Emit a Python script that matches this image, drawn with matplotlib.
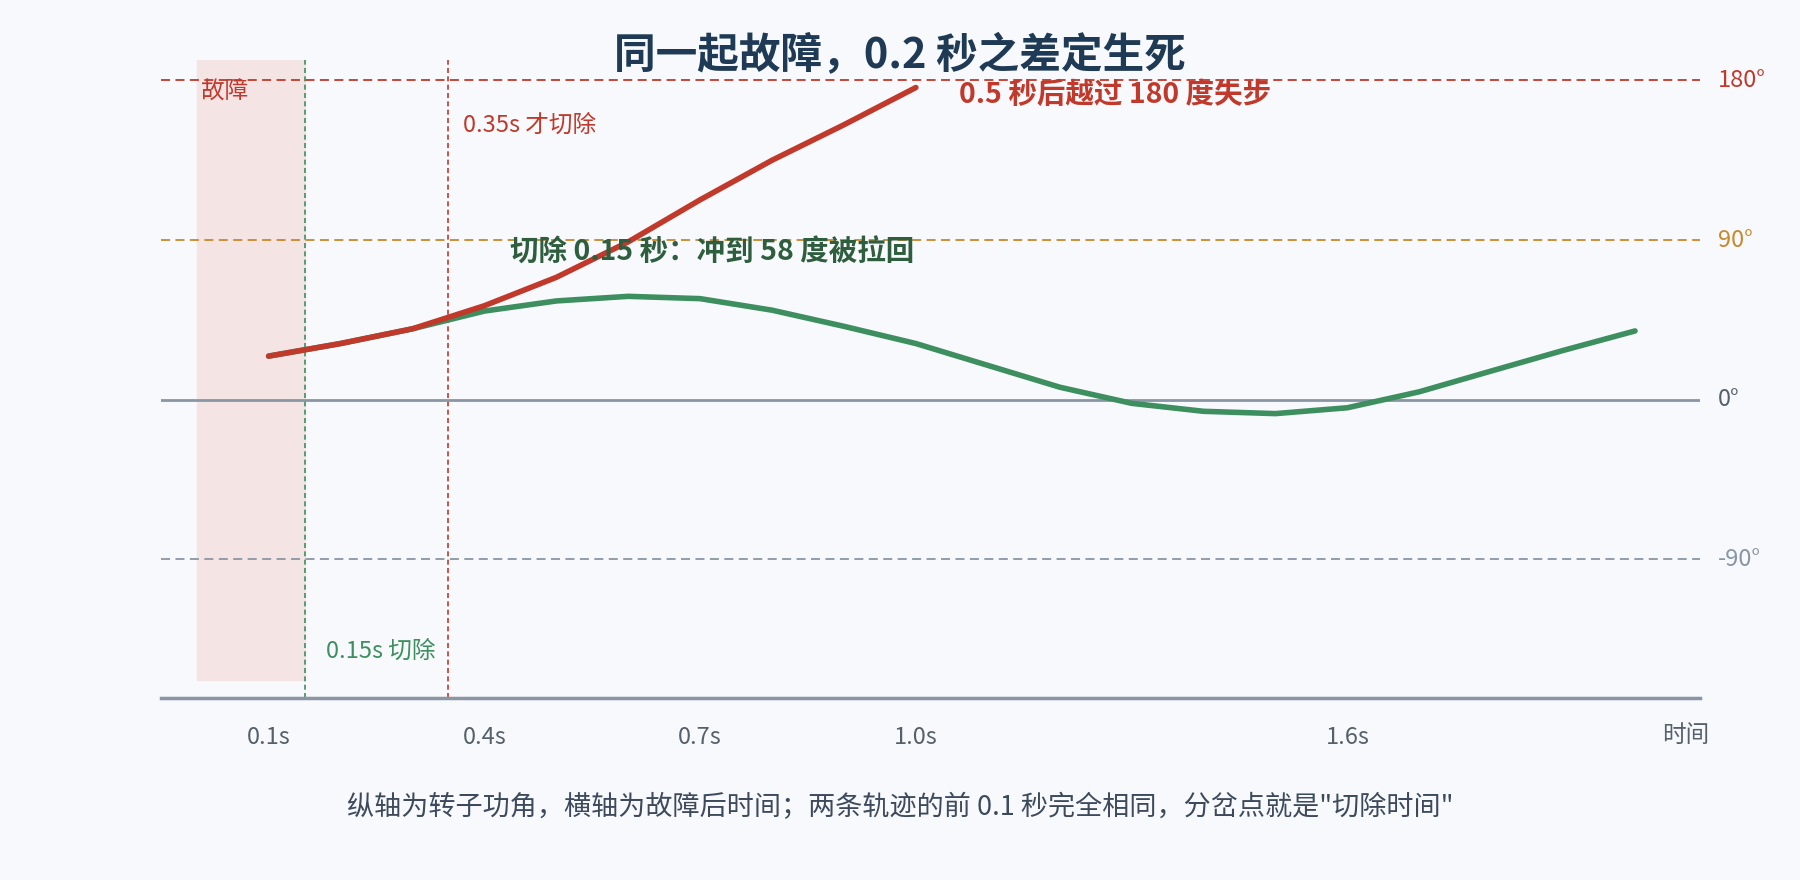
import matplotlib
matplotlib.use('agg')
import matplotlib.pyplot as plt

plt.rcParams['font.family'] = ['Noto Sans CJK SC', 'DejaVu Sans']

# data
t_red = [0.1, 0.2, 0.3, 0.4, 0.5, 0.6, 0.7, 0.8, 0.9, 1.0]
ang_red = [24.6, 31.7, 40, 53, 69, 89, 112.7, 135, 155, 176]
t_green = [0.1, 0.2, 0.3, 0.4, 0.5, 0.6, 0.7, 0.8, 0.9, 1.0, 1.1, 1.2, 1.3, 1.4,
           1.5, 1.6, 1.7, 1.8, 1.9, 2.0]
ang_green = [24.6, 31.7, 40, 50, 55.7, 58.3, 57, 50.5, 41.4, 31.7, 19.4, 7.1, -2,
             -6.5, -7.8, -4.5, 4.5, 16.2, 27.8, 38.8]
xticks = [0.1, 0.4, 0.7, 1.0, 1.6]
xtick_labels = ['0.1s', '0.4s', '0.7s', '1.0s', '1.6s']
ref_angles = [180, 90, 0, -90]
ref_labels = ['180°', '90°', '0°', '-90°']
ref_colors = ['#c0392b', '#c8892a', '#8a96a3', '#8a96a3']

bg = '#f7f9fc'
red = '#c0392b'
green = '#3d8f5f'
navy = '#1f3a55'
gray = '#56606b'

fig = plt.figure(figsize=(18, 8.8), dpi=100, facecolor=bg)
ax = fig.add_axes([0.0893, 0.207, 0.855, 0.725], facecolor=bg)
ax.set_xlim(-0.05, 2.09)
ax.set_ylim(-168, 191.6)

ax.axvspan(0, 0.15, ymin=(-158 + 168) / 359.6, ymax=1, color='#f5e4e4', zorder=0)
ax.axvline(0.15, color=green, ls=(0, (3, 2)), lw=1.2)
ax.axvline(0.35, color=red, ls=(0, (3, 2)), lw=1.2)

for a, lab, c in zip(ref_angles, ref_labels, ref_colors):
    if a == 0:
        ax.axhline(a, color='#8a96a3', lw=2)
    else:
        ax.axhline(a, color=c, ls=(0, (5, 3)), lw=1.3)
    ax.text(2.115, a, lab, color=c if a else gray, fontsize=17, va='center', ha='left')

ax.plot(t_green, ang_green, color=green, lw=4, solid_capstyle='round')
ax.plot(t_red, ang_red, color=red, lw=4, solid_capstyle='round')

ax.text(0.006, 174, '故障', color=red, fontsize=17, va='center')
ax.text(0.37, 155, '0.35s 才切除', color=red, fontsize=17, va='center')
ax.text(0.18, -142, '0.15s 切除', color=green, fontsize=17, va='center')
ax.text(1.06, 172, '0.5 秒后越过 180 度失步', color=red, fontsize=20.5,
        fontweight='bold', va='center')
ax.text(0.435, 83, '切除 0.15 秒：冲到 58 度被拉回', color='#2e5e3e', fontsize=20.5,
        fontweight='bold', va='center')

for s in ['top', 'right', 'left']:
    ax.spines[s].set_visible(False)
ax.spines['bottom'].set_color('#8a96a3')
ax.spines['bottom'].set_linewidth(2.5)
ax.set_yticks([])
ax.set_xticks(xticks)
ax.set_xticklabels(xtick_labels, fontsize=17, color=gray)
ax.tick_params(axis='x', length=0, pad=20)
ax.text(2.07, -168 - 26 * 359.6 / 638, '时间', fontsize=17, color=gray,
        ha='center', va='top')

fig.text(0.5, 0.936, '同一起故障，0.2 秒之差定生死', fontsize=30, fontweight='bold',
         color=navy, ha='center', va='center')
fig.text(0.5, 0.082, '纵轴为转子功角，横轴为故障后时间；两条轨迹的前 0.1 秒完全相同，分岔点就是"切除时间"',
         fontsize=19.5, color='#3d4a5c', ha='center', va='center')

fig.savefig('out.png', dpi=100, facecolor=bg)
